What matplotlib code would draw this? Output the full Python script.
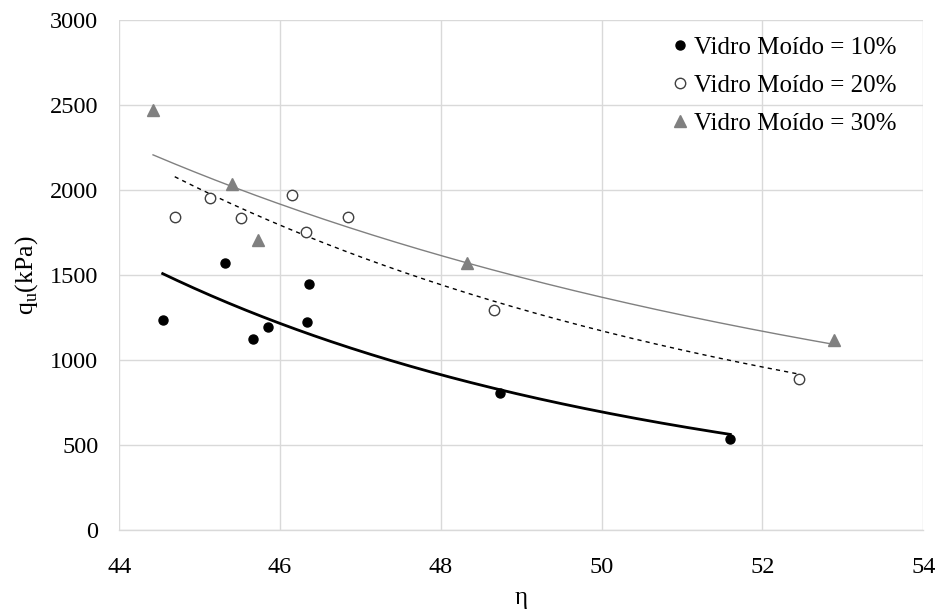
import numpy as np
import matplotlib
matplotlib.use("Agg")
import matplotlib.pyplot as plt

plt.rcParams['font.family'] = ['Liberation Serif', 'DejaVu Serif']
plt.rcParams['mathtext.fontset'] = 'custom'
plt.rcParams['mathtext.rm'] = 'Liberation Serif'

eta_10 = [44.54, 45.31, 45.66, 45.85, 46.36, 46.34, 48.74, 51.60]
qu_10 = [1239, 1571, 1127, 1196, 1450, 1224, 810, 535]

eta_20 = [44.69, 45.13, 45.51, 46.15, 46.32, 46.85, 48.66, 52.45]
qu_20 = [1841, 1953, 1835, 1971, 1753, 1843, 1296, 888]

eta_30 = [44.42, 45.40, 45.72, 48.33, 52.89]
qu_30 = [2470, 2037, 1708, 1571, 1119]

labels = ['Vidro Moído = 10%', 'Vidro Moído = 20%', 'Vidro Moído = 30%']
x_ticks = [44, 46, 48, 50, 52, 54]
y_ticks = [0, 500, 1000, 1500, 2000, 2500, 3000]


def power_fit(x, y):
    x = np.asarray(x, float)
    y = np.asarray(y, float)
    b, loga = np.polyfit(np.log(x), np.log(y), 1)
    xs = np.linspace(x.min(), x.max(), 200)
    return xs, np.exp(loga) * xs ** b


fig = plt.figure(figsize=(9.42, 6.11), dpi=100)
ax = fig.add_axes([0.1266, 0.132, 0.8535, 0.8348])

grid_c = '#d9d9d9'
ax.set_xlim(44, 54)
ax.set_ylim(0, 3000)
ax.set_xticks(x_ticks)
ax.set_yticks(y_ticks)
ax.grid(True, color=grid_c, linewidth=1.0)
ax.set_axisbelow(True)
for s in ['top', 'right', 'left']:
    ax.spines[s].set_visible(False)
ax.spines['bottom'].set_color(grid_c)
ax.spines['bottom'].set_linewidth(1.0)
ax.tick_params(axis='both', length=0, labelsize=17.5)
ax.tick_params(axis='y', pad=15)
ax.tick_params(axis='x', pad=19)

# trendlines
xs, ys = power_fit(eta_10, qu_10)
ax.plot(xs, ys, color='black', linewidth=2.0, zorder=2)
xs, ys = power_fit(eta_20, qu_20)
ax.plot(xs, ys, color='black', linewidth=1.0, linestyle=(0, (3, 3)), zorder=2)
xs, ys = power_fit(eta_30, qu_30)
ax.plot(xs, ys, color='#808080', linewidth=1.0, zorder=2)

ax.plot(eta_10, qu_10, linestyle='none', marker='o', markersize=6.5,
        color='black', label=labels[0], zorder=3)
ax.plot(eta_20, qu_20, linestyle='none', marker='o', markersize=7.5,
        markerfacecolor='white', markeredgecolor='#404040', markeredgewidth=1.0,
        label=labels[1], zorder=3)
ax.plot(eta_30, qu_30, linestyle='none', marker='^', markersize=8,
        color='#808080', label=labels[2], zorder=3)

leg = ax.legend(loc='upper right', frameon=False, fontsize=18,
                handletextpad=0.05, handlelength=1.0, labelspacing=0.62,
                borderaxespad=0.2, bbox_to_anchor=(0.985, 0.998))

ax.set_xlabel('η', fontsize=18, labelpad=7)
ax.set_ylabel(r'q$_\mathregular{u}$(kPa)', fontsize=18.5, labelpad=7)

fig.savefig('out.png', dpi=100, facecolor='white')
